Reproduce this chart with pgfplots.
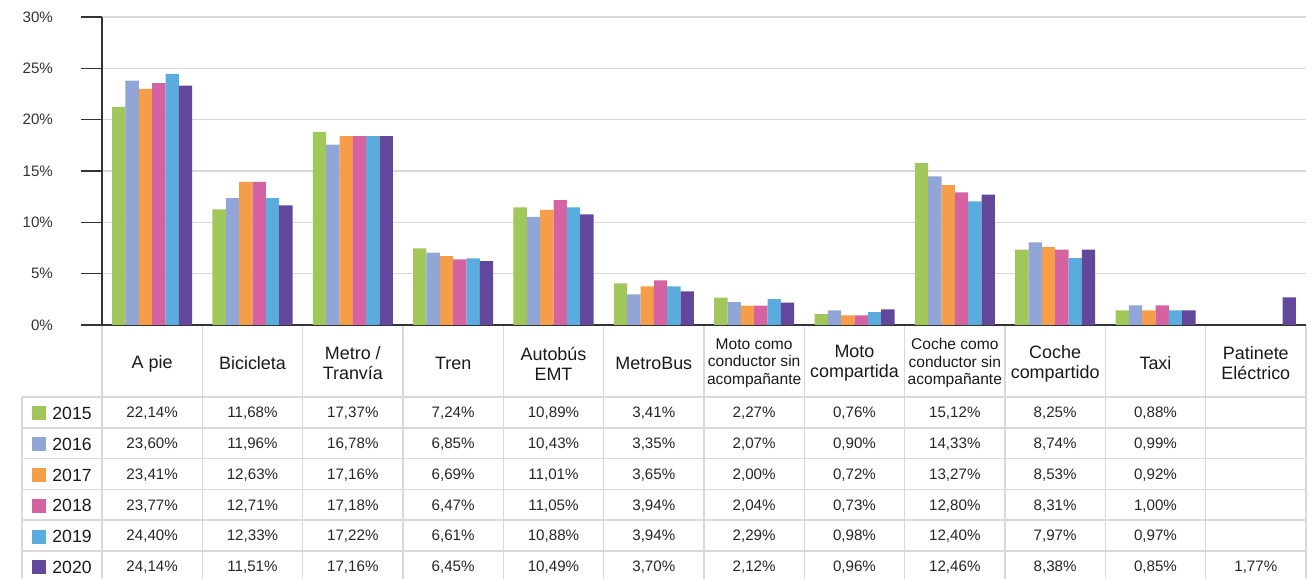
\documentclass[border=0pt]{standalone}
\usepackage{fontspec}
\setmainfont{Liberation Sans}
\usepackage{pgfplots}
\pgfplotsset{compat=1.18}

\definecolor{c15}{HTML}{A1C65A}
\definecolor{c16}{HTML}{91A5D6}
\definecolor{c17}{HTML}{F59D48}
\definecolor{c18}{HTML}{D563A2}
\definecolor{c19}{HTML}{5AACDF}
\definecolor{c20}{HTML}{62479A}
\definecolor{tbl}{HTML}{D9D9D9}

% one column of the table below the chart
\newcommand\colvals[2]{%
  \foreach \vv [count=\nn] in {#2} {%
    \node[font=\fontsize{7.6}{9}\selectfont, text=black!85] at ({50.17+#1*100.33}, {73+(\nn-0.5)*30.8}) {\vv};}}
\newcommand\hdr[2]{\node[align=center, font=\fontsize{9}{10}\selectfont, text=black!90] at ({50.17+#1*100.33}, 38.5) {#2};}
\newcommand\hdrs[2]{\node[align=center, font=\fontsize{7.8}{8.8}\selectfont, text=black!90] at ({50.17+#1*100.33}, 38) {#2};}

\begin{document}
\begin{tikzpicture}
\begin{axis}[
    scale only axis,
    width=602bp, height=154bp,
    xmin=-0.5, xmax=11.5, ymin=0, ymax=30,
    ybar=0pt, bar width=6.67bp,
    axis x line*=bottom, axis y line*=left,
    axis line style={draw=black!80, line width=0.6bp},
    xtick=\empty,
    ytick={0,5,10,15,20,25,30},
    yticklabels={0\%,5\%,10\%,15\%,20\%,25\%,30\%},
    tick align=outside, major tick length=10.5bp,
    tick style={draw=black!80, line width=0.6bp},
    ymajorgrids, grid style={draw=tbl, line width=0.8bp},
    yticklabel style={font=\fontsize{7.6}{9}\selectfont, text=black!80, xshift=-10.5bp},
    clip=false,
  ]
  \addplot[fill=c15, draw=none] coordinates {(0,21.24) (1,11.26) (2,18.81) (3,7.46) (4,11.45) (5,4.05) (6,2.66) (7,1.07) (8,15.76) (9,7.33) (10,1.43)};
  \addplot[fill=c16, draw=none] coordinates {(0,23.81) (1,12.36) (2,17.58) (3,7.04) (4,10.54) (5,2.98) (6,2.24) (7,1.43) (8,14.47) (9,8.04) (10,1.91)};
  \addplot[fill=c17, draw=none] coordinates {(0,23.00) (1,13.95) (2,18.39) (3,6.71) (4,11.22) (5,3.76) (6,1.88) (7,0.94) (8,13.62) (9,7.59) (10,1.43)};
  \addplot[fill=c18, draw=none] coordinates {(0,23.55) (1,13.95) (2,18.39) (3,6.39) (4,12.16) (5,4.35) (6,1.88) (7,0.94) (8,12.91) (9,7.33) (10,1.91)};
  \addplot[fill=c19, draw=none] coordinates {(0,24.46) (1,12.36) (2,18.39) (3,6.49) (4,11.45) (5,3.76) (6,2.53) (7,1.26) (8,12.03) (9,6.52) (10,1.43)};
  \addplot[fill=c20, draw=none] coordinates {(0,23.31) (1,11.64) (2,18.39) (3,6.23) (4,10.77) (5,3.28) (6,2.17) (7,1.52) (8,12.71) (9,7.33) (10,1.43) (11,2.69)};
  \coordinate (O) at (rel axis cs:0,0);
\end{axis}

\begin{scope}[shift={(O)}, x=0.5bp, y=-0.5bp]
  % table grid
  \foreach \k in {0,...,5} {\draw[tbl, line width=0.8bp] (-80,{72+\k*30.8}) -- (1204,{72+\k*30.8});}
  \draw[tbl, line width=0.8bp] (-80,72) -- (-80,254);
  \foreach \i in {0,...,12} {\draw[tbl, line width=0.8bp] ({\i*100.33},0.6) -- ({\i*100.33},254);}
  % header
  \hdr{0}{A pie}
  \hdr{1}{Bicicleta}
  \hdr{2}{Metro /\\Tranvía}
  \hdr{3}{Tren}
  \hdr{4}{Autobús\\EMT}
  \hdr{5}{MetroBus}
  \hdrs{6}{Moto como\\conductor sin\\acompañante}
  \hdr{7}{Moto\\compartida}
  \hdrs{8}{Coche como\\conductor sin\\acompañante}
  \hdr{9}{Coche\\compartido}
  \hdr{10}{Taxi}
  \hdr{11}{Patinete\\Eléctrico}
  % legend column
  \foreach \yr/\cc [count=\nn] in {2015/c15,2016/c16,2017/c17,2018/c18,2019/c19,2020/c20} {
    \fill[\cc] (-70,{73+(\nn-0.5)*30.8-7}) rectangle (-56,{73+(\nn-0.5)*30.8+7});
    \node[anchor=west, inner sep=0pt, font=\fontsize{8.85}{10}\selectfont, text=black!90] at (-50,{73+(\nn-0.5)*30.8}) {\yr};
  }
  % values
  \colvals{0}{{22,14\%},{23,60\%},{23,41\%},{23,77\%},{24,40\%},{24,14\%}}
  \colvals{1}{{11,68\%},{11,96\%},{12,63\%},{12,71\%},{12,33\%},{11,51\%}}
  \colvals{2}{{17,37\%},{16,78\%},{17,16\%},{17,18\%},{17,22\%},{17,16\%}}
  \colvals{3}{{7,24\%},{6,85\%},{6,69\%},{6,47\%},{6,61\%},{6,45\%}}
  \colvals{4}{{10,89\%},{10,43\%},{11,01\%},{11,05\%},{10,88\%},{10,49\%}}
  \colvals{5}{{3,41\%},{3,35\%},{3,65\%},{3,94\%},{3,94\%},{3,70\%}}
  \colvals{6}{{2,27\%},{2,07\%},{2,00\%},{2,04\%},{2,29\%},{2,12\%}}
  \colvals{7}{{0,76\%},{0,90\%},{0,72\%},{0,73\%},{0,98\%},{0,96\%}}
  \colvals{8}{{15,12\%},{14,33\%},{13,27\%},{12,80\%},{12,40\%},{12,46\%}}
  \colvals{9}{{8,25\%},{8,74\%},{8,53\%},{8,31\%},{7,97\%},{8,38\%}}
  \colvals{10}{{0,88\%},{0,99\%},{0,92\%},{1,00\%},{0,97\%},{0,85\%}}
  \colvals{11}{{},{},{},{},{},{1,77\%}}
  \pgfresetboundingbox
  \path[use as bounding box] (-102,-325) rectangle (1213,254);
\end{scope}
\end{tikzpicture}
\end{document}
